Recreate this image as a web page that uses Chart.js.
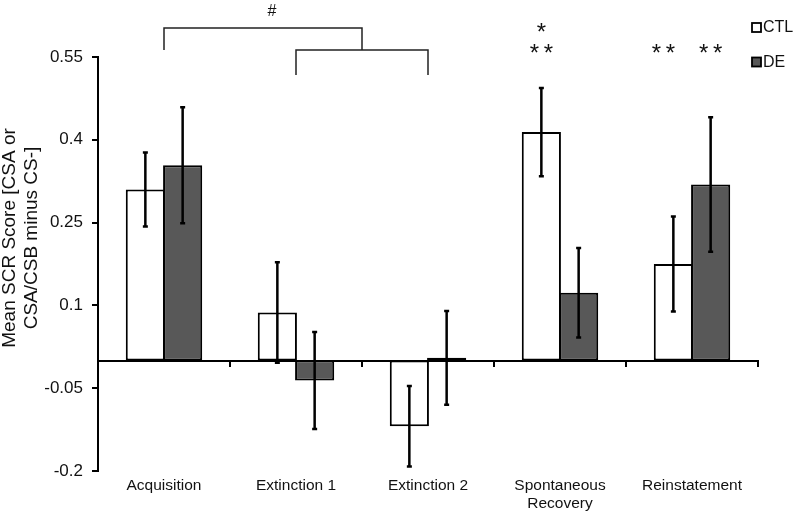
<!DOCTYPE html>
<html><head><meta charset="utf-8">
<script src="https://cdn.jsdelivr.net/npm/chart.js@4.4.1/dist/chart.umd.min.js"></script>
<style>html,body{margin:0;padding:0;background:#fff}#wrap{width:800px;height:514px}</style>
</head><body>
<div id="wrap"><canvas id="c" width="800" height="514"></canvas></div>
<script>
// ---- data ----
const categories = ['Acquisition', 'Extinction 1', 'Extinction 2', ['Spontaneous', 'Recovery'], 'Reinstatement'];
const seriesNames = ['CTL', 'DE'];
const ctlValues = [0.310, 0.087, -0.119, 0.414, 0.175];
const deValues = [0.354, -0.036, 0.005, 0.123, 0.319];
const ctlErrors = [0.067, 0.091, 0.073, 0.080, 0.086];
const deErrors = [0.105, 0.088, 0.085, 0.081, 0.122];
const yTickValues = [-0.2, -0.05, 0.1, 0.25, 0.4, 0.55];
const yTitle = ['Mean SCR Score [CSA or', 'CSA/CSB minus CS-]'];
const hashLabel = '#';
// significance markers: category index, dataset index, rows from bottom up
const starMarks = [
  { cat: 3, ds: 0, rows: ['**', '*'] },
  { cat: 4, ds: 0, rows: ['**'] },
  { cat: 4, ds: 1, rows: ['**'] }
];

const FONT = '"Liberation Sans", Arial, sans-serif';
const TEXT = '#111';
const DE_FILL = '#585858';

const errorBars = {
  id: 'errorBars',
  afterDatasetsDraw(chart) {
    const ctx = chart.ctx, y = chart.scales.y;
    const errs = [ctlErrors, deErrors];
    chart.data.datasets.forEach((ds, di) => {
      const meta = chart.getDatasetMeta(di);
      meta.data.forEach((bar, i) => {
        const v = ds.data[i], e = errs[di][i];
        const y1 = y.getPixelForValue(v + e), y2 = y.getPixelForValue(v - e);
        ctx.save();
        ctx.strokeStyle = '#000';
        ctx.lineWidth = 2.5;
        ctx.beginPath();
        ctx.moveTo(bar.x, y1); ctx.lineTo(bar.x, y2);
        ctx.moveTo(bar.x - 2.5, y1); ctx.lineTo(bar.x + 2.5, y1);
        ctx.moveTo(bar.x - 2.5, y2); ctx.lineTo(bar.x + 2.5, y2);
        ctx.stroke();
        ctx.restore();
      });
    });
  }
};

function drawCenteredGlyph(ctx, text, cx, cy) {
  const m = ctx.measureText(text);
  const base = cy + (m.actualBoundingBoxAscent - m.actualBoundingBoxDescent) / 2;
  ctx.fillText(text, cx, base);
}

const annotations = {
  id: 'annotations',
  afterDraw(chart) {
    const ctx = chart.ctx, x = chart.scales.x, area = chart.chartArea;
    const top = area.top;
    ctx.save();
    // brackets
    ctx.strokeStyle = '#222';
    ctx.lineWidth = 1.5;
    const c0 = x.getPixelForValue(0), c1 = x.getPixelForValue(1), c2 = x.getPixelForValue(2);
    const mid12 = (c1 + c2) / 2;
    ctx.beginPath();
    ctx.moveTo(c0, top - 7); ctx.lineTo(c0, top - 29); ctx.lineTo(mid12, top - 29); ctx.lineTo(mid12, top - 7);
    ctx.moveTo(c1, top + 18); ctx.lineTo(c1, top - 7); ctx.lineTo(c2, top - 7); ctx.lineTo(c2, top + 18);
    ctx.stroke();
    // hash
    ctx.fillStyle = TEXT;
    ctx.textAlign = 'center';
    ctx.textBaseline = 'alphabetic';
    ctx.font = '16px ' + FONT;
    drawCenteredGlyph(ctx, hashLabel, (c0 + mid12) / 2 + 9, top - 47);
    // stars
    ctx.font = '24px ' + FONT;
    starMarks.forEach(s => {
      const bar = chart.getDatasetMeta(s.ds).data[s.cat];
      const cx = bar.x + (s.cat === 4 && s.ds === 0 ? -10 : 0);
      s.rows.forEach((r, ri) => {
        const cy = top - 8.5 - ri * 21.5;
        if (r.length === 1) {
          drawCenteredGlyph(ctx, '*', cx, cy);
        } else {
          drawCenteredGlyph(ctx, '*', cx - 7, cy);
          drawCenteredGlyph(ctx, '*', cx + 7, cy);
        }
      });
    });
    // legend
    const lx = chart.width - 48;
    const fills = ['#fff', DE_FILL];
    ctx.font = '16px ' + FONT;
    ctx.textAlign = 'left';
    ctx.textBaseline = 'middle';
    seriesNames.forEach((n, i) => {
      const cy = 27.5 + i * 34.5;
      ctx.fillStyle = fills[i];
      ctx.fillRect(lx, cy - 4.5, 9, 9);
      ctx.strokeStyle = '#000';
      ctx.lineWidth = 1.8;
      ctx.strokeRect(lx, cy - 4.5, 9, 9);
      ctx.fillStyle = TEXT;
      ctx.fillText(n, lx + 11, cy + 0.5);
    });
    // y title
    ctx.save();
    ctx.translate(21, (area.top + area.bottom) / 2 - 26);
    ctx.rotate(-Math.PI / 2);
    ctx.font = '19px ' + FONT;
    ctx.textAlign = 'center';
    ctx.textBaseline = 'middle';
    ctx.fillStyle = TEXT;
    ctx.fillText(yTitle[0], 0, -11);
    ctx.fillText(yTitle[1], 0, 11);
    ctx.restore();
    ctx.restore();
  }
};

new Chart(document.getElementById('c'), {
  type: 'bar',
  data: {
    labels: categories,
    datasets: [
      { label: seriesNames[0], data: ctlValues, backgroundColor: '#fff', borderColor: '#000', borderWidth: 2, borderSkipped: false,
        categoryPercentage: 0.565, barPercentage: 1.05, xAxisID: 'x' },
      { label: seriesNames[1], data: deValues, backgroundColor: DE_FILL, borderColor: '#000', borderWidth: 2, borderSkipped: false,
        categoryPercentage: 0.565, barPercentage: 1.05, xAxisID: 'x' }
    ]
  },
  options: {
    responsive: false,
    animation: false,
    layout: { padding: { left: 0, top: 57, right: 42, bottom: 0 } },
    plugins: { legend: { display: false }, tooltip: { enabled: false } },
    scales: {
      x: {
        type: 'category',
        position: { y: 0 },
        offset: true,
        grid: { display: true, drawOnChartArea: false, drawTicks: true, tickLength: 5, color: '#000', lineWidth: 2, offset: true },
        border: { display: true, color: '#000', width: 2 },
        ticks: { display: false }
      },
      x2: {
        type: 'category',
        axis: 'x',
        position: 'bottom',
        offset: true,
        grid: { display: false, drawTicks: false },
        border: { display: false },
        ticks: { autoSkip: false, maxRotation: 0, minRotation: 0, padding: 5, color: TEXT, font: { family: FONT, size: 15.5 } },
        afterFit(s) { s.height = 43; }
      },
      y: {
        min: yTickValues[0],
        max: yTickValues[yTickValues.length - 1],
        afterBuildTicks(s) { s.ticks = yTickValues.map(v => ({ value: v })); },
        grid: { display: true, drawOnChartArea: false, drawTicks: true, tickLength: 6, color: '#000', lineWidth: 2 },
        border: { display: true, color: '#000', width: 2 },
        ticks: { padding: 9, color: TEXT, font: { family: FONT, size: 17 }, callback: v => String(Math.round(v * 100) / 100) },
        afterFit(s) { s.width = 98; }
      }
    }
  },
  plugins: [errorBars, annotations]
});
</script>
</body></html>
